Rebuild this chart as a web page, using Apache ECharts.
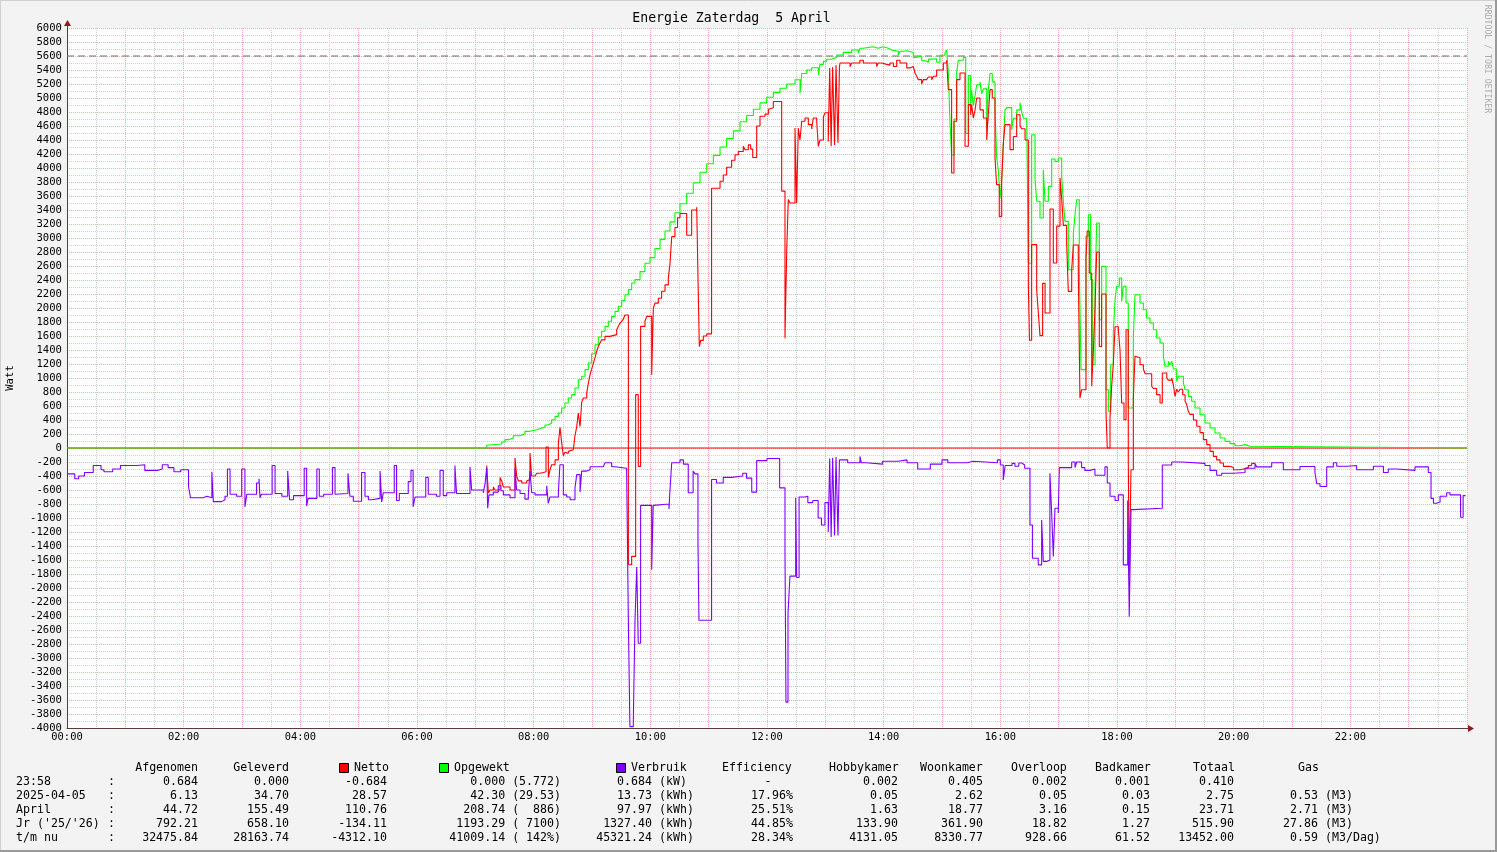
<!DOCTYPE html>
<html><head><meta charset="utf-8">
<script src="https://cdn.jsdelivr.net/npm/echarts@6/dist/echarts.min.js"></script>
<style>html,body{margin:0;padding:0;background:#f3f3f3}#c{width:1497px;height:852px}</style>
</head><body><div id="c"></div><script>
// ---------- DATA ----------
const chartTitle = 'Energie Zaterdag  5 April';
const xTickLabels = ['00:00','02:00','04:00','06:00','08:00','10:00','12:00','14:00','16:00','18:00','20:00','22:00'];
const peakLine = 5600;
// [minute of day, Watt]
const opgewekt = [[0,0],[431.7,40],[433,57],[447.1,86],[450.5,119],[453.9,143],[459.1,176],[466,204],[471.1,238],[476.2,262],[483.1,286],[488.2,300],[491.7,329],[495.1,357],[498.5,404],[502,452],[505.4,500],[508.8,571],[512.2,643],[515.6,714],[519.1,762],[522.5,857],[525.9,976],[529.4,1024],[532.8,1119],[536.2,1214],[539.6,1347],[543.1,1476],[546.5,1586],[549.9,1667],[553.4,1738],[556.8,1810],[560.2,1881],[563.7,1952],[567.1,2024],[570.5,2105],[573.9,2190],[577.4,2262],[580.8,2357],[584.2,2405],[589.4,2520],[594.5,2640],[599.7,2720],[604.8,2850],[610,2980],[615.1,3100],[620.2,3230],[625.3,3360],[630.5,3490],[637.4,3640],[644.2,3790],[651.1,3940],[658,4060],[664.8,4180],[671.7,4300],[678.5,4420],[685.4,4530],[692.2,4660],[699.1,4750],[706,4840],[712.8,4930],[719.7,5010],[726.5,5080],[733.4,5140],[740.3,5200],[748.8,5260],[754,5070],[755.7,5350],[760.9,5400],[766,5433],[772.9,5330],[774.5,5480],[778,5524],[781.4,5553],[786.5,5581],[791.7,5614],[798.5,5652],[807.1,5686],[814,5640],[815.6,5710],[819,5733],[829.3,5757],[831.1,5710],[834.5,5733],[839.6,5710],[844.8,5686],[848.2,5667],[855.1,5614],[856.8,5667],[860.2,5640],[862,5676],[863.7,5650],[870.5,5581],[874,5600],[879.1,5533],[882.6,5510],[886,5555],[889.4,5530],[891.1,5560],[894.5,5510],[897.9,5610],[903.1,5650],[904.8,5686],[906.5,5376],[908.2,4662],[909.9,4186],[912.5,4700],[915.1,5370],[916.8,5540],[921.9,5581],[924.4,4495],[927.1,5320],[929.5,4890],[930.5,5110],[932.2,4890],[934,5033],[935.7,5190],[939.1,5230],[940.8,5060],[942.5,5130],[946,4590],[947.6,5110],[949.4,5350],[951.7,5230],[954.5,4860],[956.2,4162],[957.9,3971],[959.7,3567],[961.4,3829],[963.1,4352],[964.8,4829],[966.6,4862],[971.7,4543],[973.4,4710],[976.8,4830],[980.3,4930],[982,4800],[983.7,4710],[987.1,4690],[988.8,2640],[992.2,4476],[995.7,3833],[997.4,3524],[1000.8,3286],[1004.2,3976],[1006,3524],[1009.4,3738],[1012.8,4128],[1016.2,4095],[1019.7,4143],[1023.1,3881],[1024.8,3524],[1026.5,3238],[1029.9,2547],[1035.1,3071],[1036.8,3333],[1038.5,3547],[1041.2,2619],[1043,1119],[1048.1,3023],[1050.5,3333],[1052.9,2405],[1055,1190],[1057.4,2286],[1059.1,3214],[1061.8,1833],[1064.2,2595],[1068.7,833],[1071.1,524],[1073.5,1190],[1076.2,1643],[1078,2119],[1079.7,2310],[1082.4,2429],[1084.8,2095],[1086.5,2310],[1089.3,2071],[1091.6,571],[1096.8,1571],[1098.5,2190],[1103.7,2071],[1107.1,1976],[1110.5,1857],[1114,1786],[1117.4,1690],[1120.8,1571],[1124.3,1500],[1127.7,1310],[1129.4,1167],[1132.8,1238],[1134.6,1190],[1136.3,1238],[1138,1129],[1141.4,952],[1143.1,1024],[1148.3,929],[1150,833],[1153.4,738],[1156.8,667],[1160.2,571],[1165.4,476],[1170.5,357],[1175.7,286],[1180.8,214],[1186,143],[1191.1,95],[1196.2,62],[1201.4,33],[1206.5,48],[1211.7,24],[1216.8,48],[1218.5,0],[1440,0]];
const netto = [[431.7,-250],[433.4,-643],[435.1,-600],[438.5,-557],[440.2,-600],[445.4,-420],[447.1,-470],[448.8,-557],[455.7,-600],[460.8,-143],[462.5,-400],[464.2,-470],[467.7,-500],[472.8,-470],[474.5,-450],[476.2,-71],[477.9,-400],[481.4,-420],[483.1,-360],[486.5,-350],[489.9,-340],[492.7,14],[495.1,-420],[496.8,-310],[498.5,-240],[502,-170],[505.4,71],[507.1,295],[508.8,76],[510.5,-110],[512.2,-60],[514,-80],[515.6,-48],[517.4,-24],[520.8,0],[522.5,176],[524.3,306],[525.9,500],[527.7,306],[529.4,652],[531.1,714],[534.6,790],[536.3,930],[538,1048],[539.7,1130],[541.4,1210],[543.1,1290],[544.8,1380],[546.5,1450],[548.2,1500],[549.9,1545],[553.4,1595],[558.5,1620],[565.4,1690],[567.1,1740],[568.8,1780],[570.5,1810],[572.2,1840],[573.9,1900],[577.4,-1667],[580.8,-1548],[584.9,762],[587.6,-262],[590,1738],[594.5,1810],[596.2,1880],[601.4,1048],[603.1,2000],[604.8,2070],[608.2,2140],[611.6,2240],[615.1,2330],[618.5,2430],[620.2,2630],[622,3020],[625.3,3150],[628,3290],[630.5,3351],[637.4,3040],[642.5,3400],[647.7,3440],[649.3,2226],[650.4,1447],[651.8,1537],[654.5,1600],[658,1630],[663,3711],[671.7,3810],[675,3900],[678.5,4011],[683.6,4110],[687.1,4190],[690.5,4235],[695.6,4310],[697.4,4260],[700.8,4330],[703.2,4270],[705.3,4150],[709.4,4600],[712.8,4740],[718,4770],[721.4,4840],[723.1,4860],[726.5,4950],[735.1,3670],[738.5,1567],[740.3,2829],[741.9,3550],[743.7,3500],[748.8,4570],[750.5,3500],[752.2,4570],[753.9,4400],[755.7,4667],[759.1,4714],[762.5,4620],[766,4557],[767.6,4714],[771.1,4667],[772.8,4310],[774.5,4400],[778,4730],[779.7,4790],[783,4380],[784.5,5430],[786,4310],[787.5,5440],[789.5,4330],[791,5470],[793,4360],[794.5,5440],[795.1,5500],[805.4,5450],[807.1,5500],[815.6,5540],[819.1,5500],[832.8,5450],[834.5,5500],[838,5480],[843.1,5470],[846.5,5500],[850,5450],[853.4,5540],[856.8,5500],[863.7,5430],[867.1,5450],[870.5,5430],[872.2,5357],[874,5310],[875.7,5262],[879.1,5200],[880.8,5262],[884.2,5240],[886,5300],[889.4,5262],[891.1,5310],[894.5,5400],[901.4,5500],[904.8,5540],[906.5,5119],[909.9,3929],[912.3,4667],[915.1,5262],[918.5,5357],[923.7,4310],[927.1,4905],[929.5,4760],[930.5,4905],[932.2,4714],[934,4830],[935.7,5000],[939.1,4830],[942.5,4714],[946,4400],[947.6,4760],[949.4,5119],[951.7,5000],[954.5,4143],[956.2,3762],[958.9,3309],[961.4,3810],[963.1,4357],[964.8,4620],[970,4262],[973.4,4450],[976.8,4760],[980.3,4600],[982,4560],[985.4,4400],[988.8,2310],[990,1540],[992.2,2905],[997.4,2262],[999.1,1929],[1000.8,1605],[1003.5,2352],[1006,1929],[1011.1,3414],[1014.5,2643],[1018,3170],[1021.4,3857],[1023.1,3571],[1024.8,3180],[1028.2,2920],[1029.9,2238],[1033.4,2550],[1035.1,2900],[1040.2,2500],[1041.9,714],[1043.6,833],[1048.1,2714],[1049.4,3100],[1051.5,2500],[1054,881],[1055.7,1400],[1057.4,2000],[1059.1,2800],[1061.8,1450],[1064.2,2200],[1068.7,500],[1070,0],[1072.8,428],[1074.5,880],[1076.2,1200],[1078,1733],[1081.4,1690],[1083.1,1400],[1084.8,643],[1087.2,405],[1089.3,1690],[1091.6,-180],[1092.6,-1833],[1094.4,-310],[1096.8,710],[1098.5,1310],[1100.2,1290],[1103.7,1190],[1107.1,1130],[1108.9,1060],[1115.7,880],[1117.4,850],[1120.8,762],[1124.3,643],[1126.6,1071],[1131.2,1000],[1132.8,970],[1136.3,1000],[1138,900],[1139.7,738],[1141.4,840],[1143.1,800],[1144.8,840],[1147.6,760],[1150,670],[1151.7,620],[1153.4,524],[1155.1,480],[1158.6,400],[1162,310],[1165.4,220],[1168.8,119],[1172.3,48],[1175.7,-48],[1179.1,-119],[1182.5,-170],[1186,-214],[1189.4,-262],[1196.2,-280],[1199.7,-310],[1206.5,-300],[1209.9,-280],[1215.1,-250],[1218.5,-220],[1222,-220]];
const verbruik = [[0,-370],[8,-440],[12,-400],[18,-350],[27,-250],[35,-310],[38,-340],[47,-300],[55,-250],[72,-240],[80,-320],[93,-300],[98,-240],[104,-280],[110,-340],[117,-310],[125,-550],[127,-710],[140,-690],[144,-710],[149,-340],[150.5,-766],[159,-740],[162.5,-690],[165,-300],[167.7,-660],[174.5,-690],[179.7,-300],[183,-843],[185,-660],[195,-500],[197.5,-440],[198.5,-710],[200,-660],[211,-250],[214,-650],[221,-690],[227,-330],[229,-740],[233,-680],[244,-290],[246.5,-830],[248,-720],[257,-300],[259.5,-690],[264,-660],[273,-280],[275.7,-660],[277.4,-650],[289,-360],[291,-690],[294.5,-760],[303,-350],[306.5,-690],[310,-740],[313.4,-760],[315,-720],[322,-330],[323.7,-770],[325.3,-640],[336.6,-250],[339,-750],[341.8,-650],[351,-480],[353.8,-320],[356,-840],[358,-700],[369,-420],[371.6,-660],[380,-690],[383.7,-320],[387,-680],[390.6,-640],[399,-250],[400.7,-650],[414.5,-270],[416.2,-600],[428.2,-640],[430,-510],[431.7,-280],[432.7,-860],[434,-670],[438.5,-630],[443.6,-540],[446.4,-610],[448.8,-670],[455.7,-710],[460.8,-290],[462.5,-600],[466,-650],[471,-730],[474.5,-670],[476.2,-330],[478,-640],[481.4,-670],[493.4,-540],[495,-790],[496.8,-700],[505.4,-640],[507,-240],[510.5,-670],[514,-700],[517.4,-740],[522.5,-570],[524.3,-380],[527.7,-630],[529.4,-330],[534.5,-310],[538,-267],[551.6,-240],[553.4,-210],[560.2,-267],[563.6,-290],[575.6,-270],[577.4,-2480],[579,-3980],[582.5,-3900],[584.2,-2480],[586,-1700],[587.6,-2790],[590,-820],[601.4,-1740],[603,-820],[604.8,-800],[619.2,-870],[620.2,-600],[622,-210],[630.5,-170],[634,-230],[639,-640],[644,-330],[646,-370],[649,-1350],[650,-2460],[663,-450],[668,-500],[675,-420],[683.6,-400],[695,-360],[699,-430],[704.3,-630],[709.4,-180],[720,-150],[733,-570],[738.5,-1500],[739.5,-3630],[741.6,-2370],[743.6,-1830],[749.5,-710],[750.5,-1850],[753,-700],[759,-690],[762,-780],[767,-750],[772.6,-1000],[776,-1100],[779.6,-780],[783,-1200],[784.5,-150],[786,-1270],[787.5,-140],[789.5,-1250],[791,-130],[793,-1250],[794.5,-170],[803,-210],[815.6,-120],[817,-210],[822,-230],[839,-190],[855,-170],[864,-210],[875,-300],[888,-230],[900,-170],[906,-210],[926,-190],[932,-210],[957,-170],[960,-243],[963,-457],[965,-250],[972,-220],[975,-260],[979,-215],[982,-243],[985,-290],[990.5,-1100],[993,-1576],[999,-1670],[1002.5,-1030],[1004.2,-1620],[1007.7,-1600],[1011,-360],[1012.8,-930],[1014.5,-1550],[1016.2,-860],[1019.6,-930],[1020.7,-280],[1033.4,-200],[1036.8,-280],[1038.5,-200],[1043.6,-280],[1047,-320],[1052.2,-300],[1057.3,-390],[1067.6,-270],[1070,-500],[1072.8,-690],[1078,-750],[1081.4,-670],[1086.5,-1670],[1091,-750],[1092.6,-2410],[1094.4,-880],[1096.8,-860],[1126.6,-243],[1136.3,-200],[1146.6,-220],[1170.5,-250],[1175.7,-320],[1182.5,-390],[1187.7,-360],[1199.7,-350],[1211.7,-290],[1222,-220],[1223.7,-270],[1239.1,-210],[1251.1,-310],[1268.2,-265],[1283.6,-350],[1285.4,-510],[1288.8,-550],[1295.7,-270],[1302.5,-210],[1306,-260],[1316.3,-250],[1326.5,-310],[1343.7,-260],[1354,-350],[1359,-300],[1367.7,-320],[1386.5,-270],[1400.2,-350],[1403,-720],[1405.5,-790],[1408.8,-770],[1412.3,-690],[1419.1,-640],[1422.5,-670],[1433.4,-990],[1436,-680],[1438.5,-680]];

// legend table
const rowLabels = ['23:58','2025-04-05','April',"Jr ('25/'26)",'t/m nu'];
const colAfgenomen = ['0.684','6.13','44.72','792.21','32475.84'];
const colGeleverd = ['0.000','34.70','155.49','658.10','28163.74'];
const colNetto = ['-0.684','28.57','110.76','-134.11','-4312.10'];
const colOpgewekt = ['0.000 (5.772)','42.30 (29.53)','208.74 (  886)','1193.29 ( 7100)','41009.14 ( 142%)'];
const colVerbruik = ['0.684','13.73','97.97','1327.40','45321.24'];
const colVerbruikUnit = ['(kW)','(kWh)','(kWh)','(kWh)','(kWh)'];
const colEfficiency = ['-','17.96%','25.51%','44.85%','28.34%'];
const colHobby = ['0.002','0.05','1.63','133.90','4131.05'];
const colWoon = ['0.405','2.62','18.77','361.90','8330.77'];
const colOverloop = ['0.002','0.05','3.16','18.82','928.66'];
const colBad = ['0.001','0.03','0.15','1.27','61.52'];
const colTotaal = ['0.410','2.75','23.71','515.90','13452.00'];
const colGas = ['','0.53','2.71','27.86','0.59'];
const colGasUnit = ['','(M3)','(M3)','(M3)','(M3/Dag)'];

// ---------- CHART ----------
const MONO = '"DejaVu Sans Mono", "Liberation Mono", monospace';
const C_RED = '#ff0000', C_GREEN = '#00ff00', C_PURPLE = '#8000ff';
const chart = echarts.init(document.getElementById('c'), null, {renderer:'canvas'});

const G = [];
function txt(s, x, y, align, size, color, extra) {
  G.push(Object.assign({type:'text', x:x, y:y, silent:true, z:100,
    style:{text:s, font: size + 'px ' + MONO, fill: color || '#000', align: align || 'left', verticalAlign:'middle'}}, extra || {}));
}
// frame
G.push({type:'line', silent:true, shape:{x1:0,y1:0.5,x2:1497,y2:0.5}, style:{stroke:'#d0d0d0',lineWidth:1}});
G.push({type:'line', silent:true, shape:{x1:0.5,y1:0,x2:0.5,y2:852}, style:{stroke:'#d0d0d0',lineWidth:1}});
G.push({type:'line', silent:true, shape:{x1:1496,y1:0,x2:1496,y2:852}, style:{stroke:'#9a9a9a',lineWidth:2}});
G.push({type:'line', silent:true, shape:{x1:0,y1:851,x2:1497,y2:851}, style:{stroke:'#9a9a9a',lineWidth:2}});
// title & labels
txt(chartTitle, 731.5, 19, 'center', 13.2, '#000');
txt('Watt', 10, 378, 'center', 10.6, '#000', {rotation: Math.PI/2});
txt('RRDTOOL / TOBI OETIKER', 1487, 59, 'center', 8.2, '#ababab', {rotation: -Math.PI/2});
// axis arrows
G.push({type:'line', silent:true, z:50, shape:{x1:67.5,y1:28,x2:67.5,y2:24}, style:{stroke:'#5a3b3b',lineWidth:1}});
G.push({type:'polygon', silent:true, z:50, shape:{points:[[64,26],[71,26],[67.5,20]]}, style:{fill:'#8b1a1a'}});
G.push({type:'line', silent:true, z:50, shape:{x1:1467,y1:728.5,x2:1470,y2:728.5}, style:{stroke:'#5a3b3b',lineWidth:1}});
G.push({type:'polygon', silent:true, z:50, shape:{points:[[1468,725],[1468,732],[1474,728.5]]}, style:{fill:'#8b1a1a'}});

// legend header
const LF = 11.6, H0 = 768, DY = 14;
txt('Afgenomen', 198, H0, 'right', LF);
txt('Geleverd', 289, H0, 'right', LF);
[[339, C_RED, 'Netto'], [439, C_GREEN, 'Opgewekt'], [616, C_PURPLE, 'Verbruik']].forEach(function(b){
  G.push({type:'rect', silent:true, z:100, shape:{x:b[0]+0.5, y:763.5, width:9, height:9}, style:{fill:b[1], stroke:'#000', lineWidth:1}});
  txt(b[2], b[0]+15, H0, 'left', LF);
});
txt('Efficiency', 722, H0, 'left', LF);
txt('Hobbykamer', 829, H0, 'left', LF);
txt('Woonkamer', 920, H0, 'left', LF);
txt('Overloop', 1011, H0, 'left', LF);
txt('Badkamer', 1095, H0, 'left', LF);
txt('Totaal', 1193, H0, 'left', LF);
txt('Gas', 1298, H0, 'left', LF);
for (let i = 0; i < rowLabels.length; i++) {
  const y = H0 + DY * (i + 1);
  txt(rowLabels[i], 16, y, 'left', LF);
  txt(':', 108, y, 'left', LF);
  txt(colAfgenomen[i], 198, y, 'right', LF);
  txt(colGeleverd[i], 289, y, 'right', LF);
  txt(colNetto[i], 387, y, 'right', LF);
  txt(colOpgewekt[i], 561, y, 'right', LF);
  txt(colVerbruik[i], 652, y, 'right', LF);
  txt(colVerbruikUnit[i], 659, y, 'left', LF);
  if (colEfficiency[i] === '-') txt('-', 768, y, 'center', LF);
  else txt(colEfficiency[i], 793, y, 'right', LF);
  txt(colHobby[i], 898, y, 'right', LF);
  txt(colWoon[i], 983, y, 'right', LF);
  txt(colOverloop[i], 1067, y, 'right', LF);
  txt(colBad[i], 1150, y, 'right', LF);
  txt(colTotaal[i], 1234, y, 'right', LF);
  if (colGas[i]) { txt(colGas[i], 1318, y, 'right', LF); txt(colGasUnit[i], 1325, y, 'left', LF); }
}

const lineS = function(name, data, color, z, extra) {
  return Object.assign({name:name, type:'line', data:data, step:'end', showSymbol:false, symbol:'none',
    silent:true, animation:false, z:z, lineStyle:{color:color, width:1.1}, itemStyle:{color:color}}, extra || {});
};

chart.setOption({
  backgroundColor: '#f3f3f3',
  animation: false,
  grid: {left:67, right:30, top:28, bottom:124, show:true, backgroundColor:'#ffffff', borderWidth:0},
  xAxis: {
    type:'value', min:0, max:1440, interval:60,
    axisLine:{show:true, onZero:false, lineStyle:{color:'#5a3b3b', width:1}},
    axisTick:{show:false},
    axisLabel:{margin:4, fontFamily:MONO, fontSize:10.4, color:'#000',
      formatter:function(v){ return (v % 120 === 0 && v < 1440) ? xTickLabels[v/120] : ''; }},
    splitLine:{show:true, lineStyle:{color:'#f3adad', type:[1,1], width:1}},
    minorTick:{show:false, splitNumber:2},
    minorSplitLine:{show:true, lineStyle:{color:'#d2d2d2', type:[1,1], width:1}}
  },
  yAxis: {
    type:'value', min:-4000, max:6000, interval:200,
    axisLine:{show:true, onZero:false, lineStyle:{color:'#5a3b3b', width:1}},
    axisTick:{show:false},
    axisLabel:{margin:5, fontFamily:MONO, fontSize:10.6, color:'#000', formatter:function(v){return String(v);}},
    splitLine:{show:true, lineStyle:{color:'#f3adad', type:[1,1], width:1}},
    minorTick:{show:false, splitNumber:2},
    minorSplitLine:{show:true, lineStyle:{color:'#d2d2d2', type:[1,1], width:1}}
  },
  series: [
    {type:'line', data:[[0,peakLine],[1440,peakLine]], showSymbol:false, symbol:'none', silent:true, z:1,
      lineStyle:{color:'#6e6e6e', width:1, type:[7,4]}},
    {type:'line', data:[[0,0],[1440,0]], showSymbol:false, symbol:'none', silent:true, z:2,
      lineStyle:{color:C_RED, width:1.1}},
    lineS('Opgewekt', opgewekt, C_GREEN, 3),
    lineS('Netto', netto, C_RED, 4),
    lineS('Verbruik', verbruik, C_PURPLE, 5)
  ],
  graphic: G
});
</script></body></html>
